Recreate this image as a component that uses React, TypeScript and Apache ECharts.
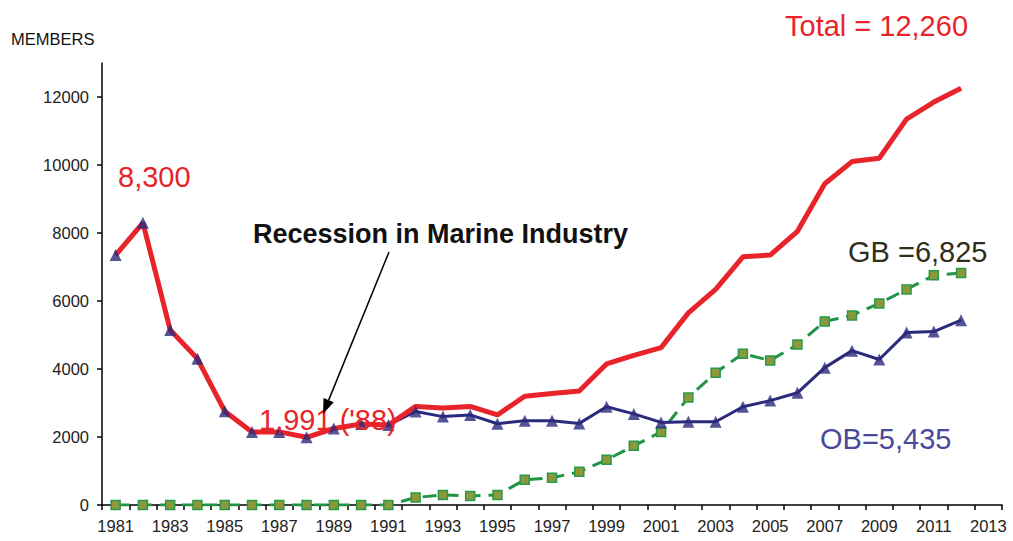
import React, { useEffect, useRef } from "react";
import * as echarts from "echarts";

const years = [
  "1981", "1982", "1983", "1984", "1985", "1986", "1987", "1988", "1989", "1990", "1991",
  "1992", "1993", "1994", "1995", "1996", "1997", "1998", "1999", "2000", "2001", "2002",
  "2003", "2004", "2005", "2006", "2007", "2008", "2009", "2010", "2011", "2012", "2013",
];

const totalMembers = [
  7350, 8300, 5150, 4300, 2760, 2150, 2150, 1991, 2250, 2380, 2350,
  2900, 2850, 2900, 2650, 3200, 3280, 3350, 4150, 4400, 4630, 5650,
  6340, 7300, 7350, 8050, 9450, 10100, 10200, 11350, 11850, 12260,
];

const obMembers = [
  7350, 8300, 5150, 4300, 2760, 2150, 2150, 1991, 2250, 2380, 2350,
  2750, 2600, 2650, 2390, 2480, 2480, 2400, 2890, 2680, 2430, 2450,
  2450, 2890, 3070, 3300, 4040, 4540, 4280, 5070, 5100, 5435,
];

const gbMembers = [
  0, 0, 0, 0, 0, 0, 0, 0, 0, 0, 0,
  220, 295, 265, 295, 740, 800, 975, 1330, 1740, 2150, 3160,
  3890, 4450, 4250, 4720, 5400, 5575, 5930, 6340, 6755, 6825,
];

const yTickValues = [0, 2000, 4000, 6000, 8000, 10000, 12000];

const yAxisTitle = "MEMBERS";
const totalLabel = "Total = 12,260";
const peakLabel = "8,300";
const lowLabel = "1,991 ('88)";
const gbLabel = "GB =6,825";
const obLabel = "OB=5,435";
const recessionLabel = "Recession in Marine Industry";

const FONT = '"Liberation Sans", Arial, Helvetica, sans-serif';

export default function App() {
  const ref = useRef<HTMLDivElement>(null);

  useEffect(() => {
    if (!ref.current) return;
    const chart = echarts.init(ref.current, null, { renderer: "svg" });

    const big = (text: string, x: number, y: number, fill: string, weight = "normal", size = 29) => ({
      type: "text",
      x,
      y,
      z: 100,
      style: {
        text,
        fill,
        font: `${weight} ${size}px ${FONT}`,
        align: "left",
        verticalAlign: "middle",
      },
    });

    // arrow geometry
    const sx = 389, sy = 252, tx = 323, ty = 414;
    const dx = tx - sx, dy = ty - sy;
    const len = Math.sqrt(dx * dx + dy * dy);
    const ux = dx / len, uy = dy / len;
    const hl = 15, hw = 5.5;
    const bx = tx - ux * hl, by = ty - uy * hl;
    const px = -uy, py = ux;

    chart.setOption({
      animation: false,
      backgroundColor: "#ffffff",
      grid: { left: 102, right: 11, top: 63, bottom: 36, containLabel: false },
      xAxis: {
        type: "category",
        data: years,
        boundaryGap: true,
        axisLine: { show: true, lineStyle: { color: "#000", width: 1.5 } },
        axisTick: { show: true, interval: 0, length: 5, lineStyle: { color: "#000", width: 1.5 } },
        axisLabel: {
          interval: 1,
          color: "#222",
          fontSize: 16.5,
          fontFamily: FONT,
          margin: 12,
        },
        splitLine: { show: false },
      },
      yAxis: {
        type: "value",
        min: 0,
        max: 13000,
        interval: 1000,
        axisLine: { show: true, lineStyle: { color: "#000", width: 1.5 } },
        axisTick: {
          show: true,
          length: 5,
          lineStyle: { color: "#000", width: 1.5 },
          customValues: yTickValues,
        },
        axisLabel: {
          color: "#222",
          fontSize: 16.5,
          fontFamily: FONT,
          margin: 13,
          customValues: yTickValues,
          formatter: (v: number) => String(v),
        },
        splitLine: { show: false },
      },
      series: [
        {
          name: "GB",
          type: "line",
          data: gbMembers,
          z: 2,
          symbol: "rect",
          symbolSize: 9,
          showSymbol: true,
          lineStyle: { color: "#1f9445", width: 3, type: [14, 8] },
          itemStyle: { color: "#8c983a", borderColor: "#279a4a", borderWidth: 1.5 },
        },
        {
          name: "OB line",
          type: "line",
          data: obMembers,
          z: 3,
          symbol: "none",
          lineStyle: { color: "#2b2a7c", width: 3 },
        },
        {
          name: "Total",
          type: "line",
          data: totalMembers,
          z: 4,
          symbol: "none",
          lineStyle: { color: "#e8242a", width: 5 },
        },
        {
          name: "OB",
          type: "scatter",
          data: obMembers,
          z: 5,
          symbol: "triangle",
          symbolSize: 12,
          itemStyle: { color: "#2b2a7c" },
        },
      ],
      graphic: [
        {
          type: "text",
          x: 11,
          y: 39,
          style: {
            text: yAxisTitle,
            fill: "#111",
            font: `normal 16.5px ${FONT}`,
            align: "left",
            verticalAlign: "middle",
          },
        },
        big(totalLabel, 785, 26, "#e8242a"),
        big(peakLabel, 118, 177, "#e8242a"),
        big(lowLabel, 259, 420, "#e8242a"),
        big(gbLabel, 848, 252, "#2f2f1c"),
        big(obLabel, 820, 439, "#4a4a9c"),
        big(recessionLabel, 253, 234, "#111", "bold", 27),
        {
          type: "line",
          z: 101,
          shape: { x1: sx, y1: sy, x2: bx, y2: by },
          style: { stroke: "#000", lineWidth: 1.5 },
        },
        {
          type: "polygon",
          z: 101,
          shape: {
            points: [
              [tx, ty],
              [bx + px * hw, by + py * hw],
              [bx - px * hw, by - py * hw],
            ],
          },
          style: { fill: "#000" },
        },
      ],
    });

    return () => chart.dispose();
  }, []);

  return (
    <div
      ref={ref}
      style={{ position: "fixed", left: 0, top: 0, width: 1013, height: 541 }}
    />
  );
}
